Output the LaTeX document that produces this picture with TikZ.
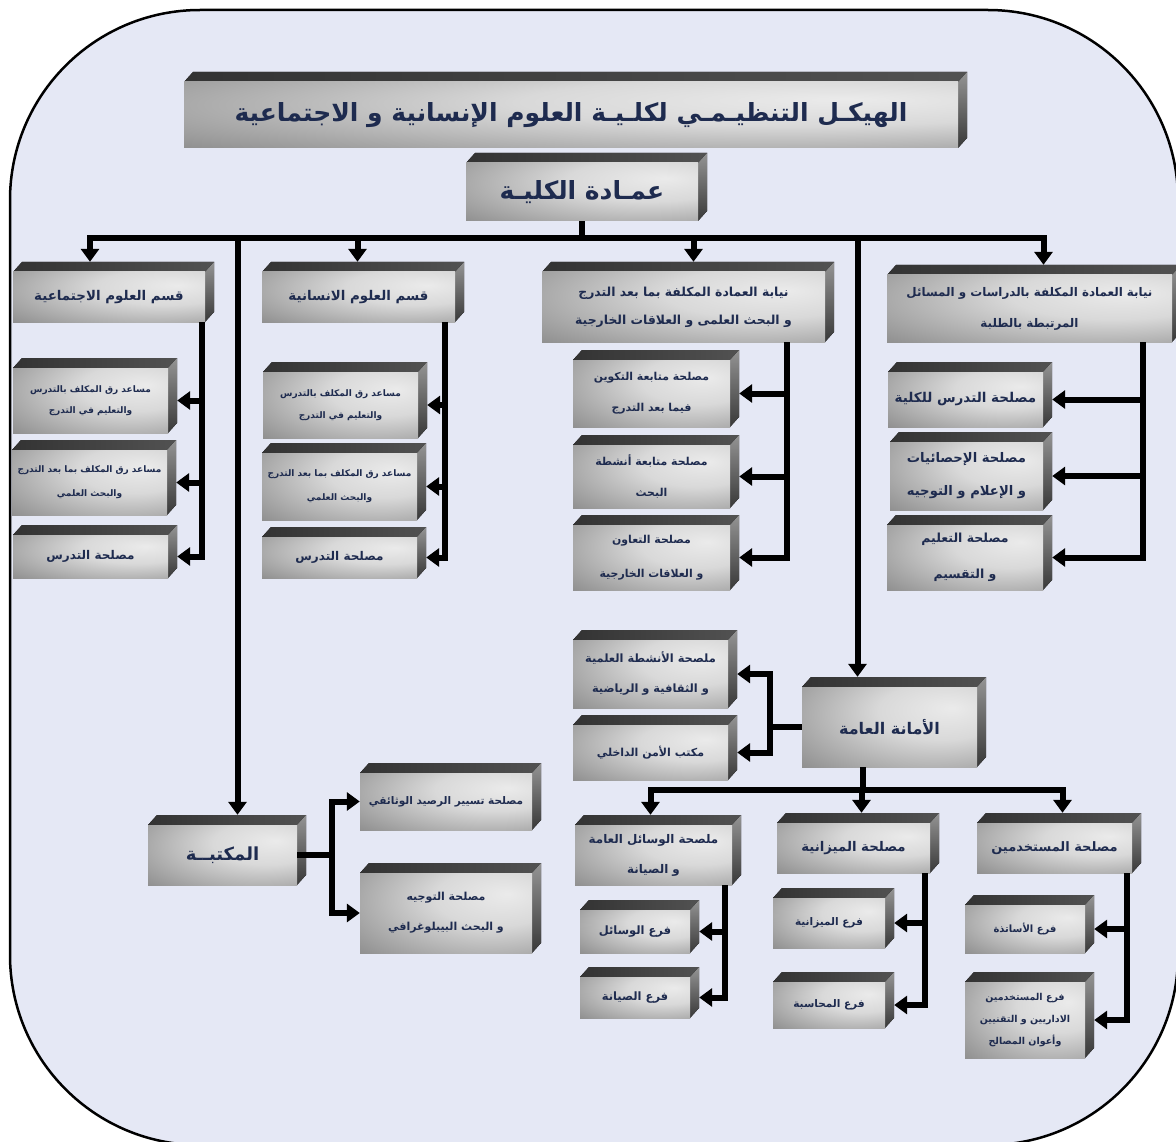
\documentclass[tikz,border=0pt]{standalone}
\usepackage{fontspec}
\usetikzlibrary{arrows.meta}
\TeXXeTstate=1
\newfontfamily\arfont[Script=Arabic]{DejaVu Sans}
\definecolor{bgc}{HTML}{E5E8F5}
\definecolor{txt}{HTML}{1E2B4F}
\pgfdeclareradialshading{frontshade}{\pgfpoint{18bp}{12bp}}{%
  color(0bp)=(black!8); color(18bp)=(black!15); color(45bp)=(black!42);
  color(75bp)=(black!68); color(100bp)=(black!74)}
\newcommand\R[1]{\beginR #1\endR}
\def\DX{9}\def\DY{10}
\tikzset{
  front/.style={shade, shading=frontshade, inner sep=0pt, align=center, text=txt},
  topface/.style={left color=black!80, right color=black!68},
  sideface/.style={top color=black!42, bottom color=black!78},
  conn/.style={line width=6pt, black, line join=miter},
  arr/.style={conn, -{Triangle[width=18pt,length=13pt]}}
}
% name, x1, y1, x2, y2, font size, line skip, text
\newcommand\cbox[8]{%
  \fill[topface] (#2,#3) -- (#2+\DX,#3-\DY) -- (#4+\DX,#3-\DY) -- (#4,#3) -- cycle;
  \fill[sideface] (#4,#3) -- (#4+\DX,#3-\DY) -- (#4+\DX,#5-\DY) -- (#4,#5) -- cycle;
  \node[front, minimum width={(#4-#2)*1pt}, minimum height={(#5-#3)*1pt},
        font={\arfont\bfseries\fontsize{#6}{#7}\selectfont}]
        (#1) at ({(#2+#4)/2},{(#3+#5)/2}) {#8};
}
\begin{document}
\begin{tikzpicture}[x=1pt,y=-1pt]
\useasboundingbox (0,0) rectangle (1176,1142);
\fill[white] (0,0) rectangle (1176,1142);
\filldraw[fill=bgc, draw=black, line width=2.5pt, rounded corners=190pt] (10,10) rectangle (1178,1145);

% boxes
\cbox{title}{184}{82}{958}{148}{25}{30}{\R{الهيكـل التنظيـمـي لكلـيـة العلوم الإنسانية و الاجتماعية}}
\cbox{dean}{466}{163}{698}{221}{25}{30}{\R{عمـادة الكليـة}}

\cbox{soc}{13}{272}{205}{322}{13.4}{16}{\R{قسم العلوم الاجتماعية}}
\cbox{hum}{262}{272}{455}{322}{13.4}{16}{\R{قسم العلوم الانسانية}}
\cbox{ny1}{542}{272}{825}{342}{12.4}{28}{\R{نيابة العمادة المكلفة بما بعد التدرج}\\\R{و البحث العلمى و العلاقات الخارجية}}
\cbox{ny2}{887}{275}{1172}{342}{11.9}{31}{\R{نيابة العمادة المكلفة بالدراسات و المسائل}\\\R{المرتبطة بالطلبة}}

\cbox{soc1}{13}{368}{168}{433}{9}{21}{\R{مساعد رق المكلف بالتدرس}\\\R{والتعليم في التدرج}}
\cbox{soc2}{12}{450}{167}{515}{9}{24}{\R{مساعد رق المكلف بما بعد التدرج}\\\R{والبحث العلمي}}
\cbox{soc3}{13}{535}{168}{578}{12}{14}{\R{مصلحة التدرس}}

\cbox{hum1}{263}{372}{418}{438}{9}{22}{\R{مساعد رق المكلف بالتدرس}\\\R{والتعليم في التدرج}}
\cbox{hum2}{262}{453}{417}{520}{9}{24}{\R{مساعد رق المكلف بما بعد التدرج}\\\R{والبحث العلمي}}
\cbox{hum3}{262}{537}{417}{578}{12}{14}{\R{مصلحة التدرس}}

\cbox{ny1a}{573}{360}{730}{427}{10.9}{31}{\R{مصلحة متابعة التكوين}\\\R{فيما بعد التدرج}}
\cbox{ny1b}{573}{445}{730}{508}{10.9}{31}{\R{مصلحة متابعة أنشطة}\\\R{البحث}}
\cbox{ny1c}{573}{525}{730}{590}{10.9}{34}{\R{مصلحة التعاون}\\\R{و العلاقات الخارجية}}

\cbox{ny2a}{888}{372}{1043}{427}{13.5}{16}{\R{مصلحة التدرس للكلية}}
\cbox{ny2b}{890}{442}{1043}{510}{13.2}{33}{\R{مصلحة الإحصائيات}\\\R{و الإعلام و التوجيه}}
\cbox{ny2c}{887}{525}{1043}{590}{12.5}{36}{\R{مصلحة التعليم}\\\R{و التقسيم}}

\cbox{act}{573}{640}{728}{708}{11.4}{30}{\R{ملصحة الأنشطة العلمية}\\\R{و الثقافية و الرياضية}}
\cbox{amn}{573}{725}{728}{780}{11}{14}{\R{مكتب الأمن الداخلي}}
\cbox{amana}{802}{687}{977}{767}{16}{19}{\R{الأمانة العامة}}

\cbox{lib}{148}{825}{297}{885}{18}{21}{\R{المكتبــة}}
\cbox{lib1}{360}{773}{532}{830}{10.5}{13}{\R{مصلحة تسيير الرصيد الوثائقي}}
\cbox{lib2}{360}{873}{532}{953}{11}{30}{\R{مصلحة التوجيه}\\\R{و البحث البيبلوغرافي}}

\cbox{was}{575}{825}{732}{885}{11.9}{30}{\R{ملصحة الوسائل العامة}\\\R{و الصيانة}}
\cbox{miz}{777}{823}{930}{873}{13.3}{16}{\R{مصلحة الميزانية}}
\cbox{mus}{977}{823}{1132}{873}{13}{16}{\R{مصلحة المستخدمين}}

\cbox{was1}{580}{910}{690}{953}{11.5}{14}{\R{فرع الوسائل}}
\cbox{was2}{580}{977}{690}{1018}{11.5}{14}{\R{فرع الصيانة}}
\cbox{miz1}{773}{898}{885}{948}{10.5}{14}{\R{فرع الميزانية}}
\cbox{miz2}{773}{982}{885}{1028}{10.5}{14}{\R{فرع المحاسبة}}
\cbox{mus1}{965}{905}{1085}{953}{10}{13}{\R{فرع الأساتذة}}
\cbox{mus2}{965}{982}{1085}{1058}{9.5}{22}{\R{فرع المستخدمين}\\\R{الاداريين و التقنيين}\\\R{وأعوان المصالح}}

% connectors from the dean
\coordinate (bus) at ([yshift=-17pt]dean.south);
\draw[conn] (dean.south) -- (bus);
\draw[arr] (bus) -| ([xshift=-19pt,yshift=10pt]soc.north);
\draw[arr] (bus) -| ([xshift=-1pt,yshift=10pt]hum.north);
\draw[arr] (bus) -| ([xshift=10pt,yshift=10pt]ny1.north);
\draw[arr] (bus) -| ([xshift=14pt,yshift=10pt]ny2.north);
\draw[arr] (bus) -| ([xshift=15pt,yshift=10pt]lib.north);
\draw[arr] (bus) -| ([xshift=-32pt,yshift=10pt]amana.north);

% department children
\foreach \c in {soc1,soc2,soc3} \draw[arr] ([xshift=-3pt]soc.south east) |- ([xshift=9pt]\c.east);
\foreach \c in {hum1,hum2,hum3} \draw[arr] ([xshift=-10pt]hum.south east) |- ([xshift=9pt]\c.east);
\foreach \c in {ny1a,ny1b,ny1c} \draw[arr] ([xshift=-38pt]ny1.south east) |- ([xshift=9pt]\c.east);
\foreach \c in {ny2a,ny2b,ny2c} \draw[arr] ([xshift=-29pt]ny2.south east) |- ([xshift=9pt]\c.east);

% general secretariat
\coordinate (aj) at ([xshift=-32pt]amana.west);
\draw[conn] (amana.west) -- (aj);
\foreach \c in {act,amn} \draw[arr] (aj) |- ([xshift=9pt]\c.east);
\coordinate (abus) at ([xshift=-27pt,yshift=-23pt]amana.south);
\draw[conn] ([xshift=-27pt]amana.south) -- (abus);
\draw[arr] (abus) -| ([xshift=-3pt,yshift=10pt]was.north);
\draw[arr] (abus) -| ([xshift=8pt,yshift=10pt]miz.north);
\draw[arr] (abus) -| ([xshift=8pt,yshift=10pt]mus.north);
\foreach \c in {was1,was2} \draw[arr] ([xshift=-7pt]was.south east) |- ([xshift=9pt]\c.east);
\foreach \c in {miz1,miz2} \draw[arr] ([xshift=-5pt]miz.south east) |- ([xshift=9pt]\c.east);
\foreach \c in {mus1,mus2} \draw[arr] ([xshift=-5pt]mus.south east) |- ([xshift=9pt]\c.east);

% library
\coordinate (lj) at ([xshift=35pt]lib.east);
\draw[conn] (lib.east) -- (lj);
\foreach \c in {lib1,lib2} \draw[arr] (lj) |- (\c.west);
\end{tikzpicture}
\end{document}
